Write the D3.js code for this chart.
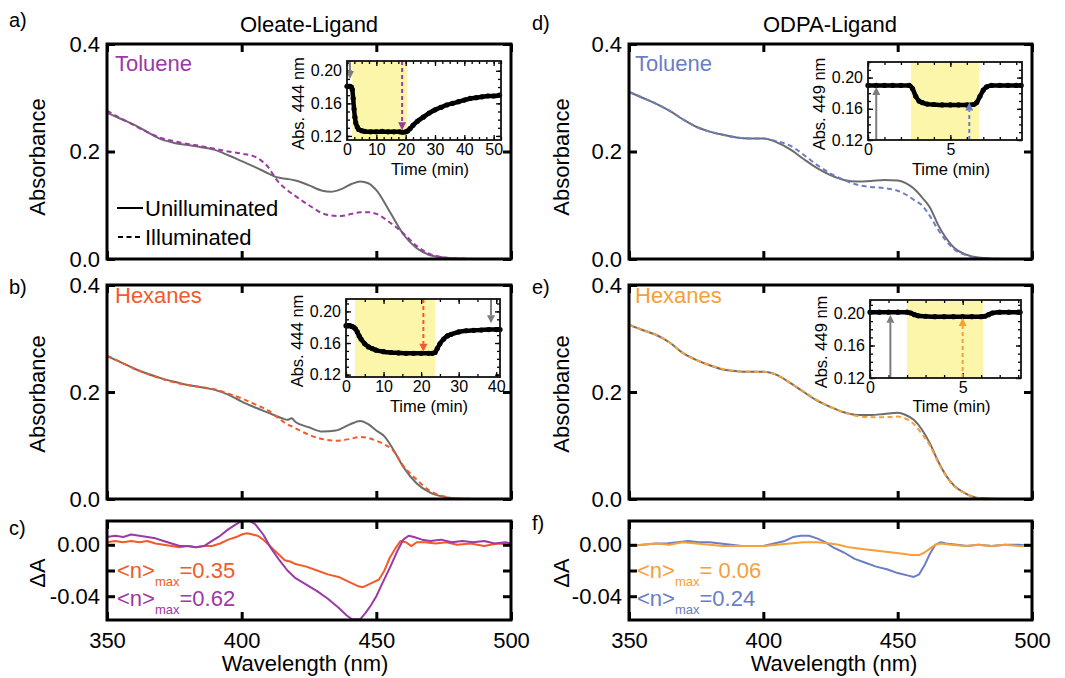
<!DOCTYPE html>
<html>
<head>
<meta charset="utf-8">
<script src="https://cdn.jsdelivr.net/npm/d3@7"></script>
<style>
  body { margin: 0; background: #fff; }
  svg { display: block; }
</style>
</head>
<body>
<svg id="fig" width="1065" height="678"></svg>
<script>
// ---------- Steady-state spectra (wavelength in nm, absorbance) ----------
const wlOleTol = [350,355,360,365,370,375,380,385,390,395,400,405,410,413,417,420,425,430,433,437,441,444,447,450,455,460,465,470,475,480,490,500];
const absOleTolDark  = [.272,.261,.250,.236,.223,.216,.212,.208,.203,.193,.182,.171,.159,.152,.149,.146,.137,.127,.125,.130,.140,.144,.141,.128,.088,.046,.020,.007,.003,.001,.000,.000];
const absOleTolLight = [.276,.262,.249,.236,.225,.219,.214,.210,.205,.200,.196,.190,.170,.147,.128,.117,.100,.085,.081,.080,.084,.087,.087,.084,.068,.048,.024,.009,.003,.001,.000,.000];

const wlOleHex = [350,355,360,365,370,375,380,385,390,395,400,405,410,415,417,418.5,420,425,430,435,440,444,447,450,453,456,460,465,470,475,480,490,500];
const absOleHexDark  = [.267,.256,.244,.234,.226,.219,.213,.209,.204,.195,.182,.171,.161,.151,.148,.151,.144,.134,.126,.128,.139,.146,.140,.128,.117,.095,.060,.029,.012,.004,.001,.000,.000];
const absOleHexLight = [.268,.256,.244,.234,.225,.218,.213,.209,.205,.197,.188,.177,.165,.146,.139,.136,.132,.120,.112,.109,.112,.116,.114,.109,.102,.092,.062,.036,.015,.005,.001,.000,.000];

const wlOdpa = [350,355,360,365,370,375,380,385,390,395,400,405,410,415,420,425,430,435,440,445,450,453,456,459,462,465,468,471,475,480,490,500];
const absOdpaTolDark  = [.311,.300,.289,.276,.260,.246,.237,.231,.226,.224,.224,.217,.204,.186,.169,.156,.147,.144,.145,.147,.146,.141,.131,.115,.096,.064,.039,.021,.009,.003,.000,.000];
const absOdpaTolLight = [.311,.300,.289,.276,.260,.246,.237,.231,.226,.224,.224,.219,.211,.194,.175,.159,.147,.138,.134,.132,.127,.120,.110,.100,.080,.055,.034,.018,.008,.002,.000,.000];
const absOdpaHexDark  = [.326,.316,.307,.293,.273,.260,.250,.242,.239,.238,.238,.232,.217,.200,.184,.172,.162,.157,.157,.159,.161,.157,.148,.130,.104,.071,.044,.025,.011,.002,.000,.000];
const absOdpaHexLight = [.326,.316,.307,.293,.273,.260,.250,.243,.239,.238,.238,.232,.217,.201,.185,.172,.162,.155,.153,.153,.154,.150,.140,.122,.100,.069,.043,.024,.011,.002,.000,.000];

// ---------- Difference spectra (illuminated - unilluminated) ----------
const wlDiffOleTol = [350,353,356,359,362,365,368,371,374,377,380,383,386,389,392,395,398,400,403,405,408,411,414,417,420,424,428,432,436,439,441,444,446,448,450,452,455,458,460,462,464,467,470,474,478,482,486,490,494,498,500];
const dAOleTol = [.006,.007,.006,.008,.007,.006,.005,.003,.001,-.001,-.001,-.002,-.001,.003,.007,.012,.016,.0185,.0185,.016,.008,-.003,-.012,-.020,-.026,-.031,-.036,-.042,-.049,-.055,-.058,-.058,-.053,-.047,-.040,-.031,-.018,-.004,.004,.007,.006,.004,.003,.004,.002,.003,.002,.003,.001,.002,.001];

const wlDiffOleHex = [350,353,356,359,362,365,368,371,374,377,380,383,386,389,392,395,398,400,402,404,406,408,410,412,414,416,418,420,424,428,432,436,440,443,445,447,449,451,453,455,457,459,461,463,465,468,472,476,480,485,490,495,500];
const dAOleHex = [.002,.003,.002,.003,.002,.003,.001,.000,-.001,-.002,-.001,-.002,-.001,-.001,.001,.004,.006,.008,.009,.008,.007,.004,.000,-.004,-.008,-.012,-.013,-.015,-.017,-.020,-.023,-.025,-.029,-.032,-.033,-.031,-.029,-.027,-.020,-.010,-.003,.003,.002,-.001,.002,.002,.001,.002,.000,.001,-.001,.001,.000];

const wlDiffOdpaTol = [350,355,360,364,368,372,376,380,384,388,392,396,400,404,408,411,414,417,420,423,426,430,434,438,442,446,450,454,456,458,460,462,464,466,468,472,476,480,485,490,495,500];
const dAOdpaTol = [-.001,.000,.001,.001,.002,.003,.002,.002,.001,.000,-.001,-.001,-.001,.001,.003,.006,.007,.007,.005,.002,-.002,-.006,-.011,-.014,-.017,-.019,-.022,-.024,-.025,-.023,-.016,-.007,.000,.002,.001,.000,-.001,.000,-.001,.000,.000,-.001];

const wlDiffOdpaHex = [350,355,360,365,370,375,380,385,390,395,400,405,410,415,420,425,428,432,436,440,444,448,452,455,458,460,462,464,466,470,475,480,485,490,495,500];
const dAOdpaHex = [-.001,.000,.001,.000,.002,.001,.000,-.001,-.001,-.001,-.001,.000,.001,.002,.002,.001,.000,-.002,-.003,-.004,-.005,-.006,-.007,-.008,-.008,-.006,-.003,.000,.001,.000,-.001,.000,-.001,.000,-.001,-.001];

// ---------- Kinetics (time in min, absorbance at the exciton peak) ----------
const tOleTol = [0,0.5,1,1.5,1.8,2.1,2.4,2.7,3,3.5,4,5,6,8,10,12,14,16,18,19,20,20.6,21.5,22.5,24,26,28,30,32,34,36,38,40,42,44,46,48,50,52];
const kinOleTol = [.181,.181,.181,.180,.177,.166,.153,.143,.136,.131,.128,.1265,.1255,.125,.125,.1255,.125,.125,.125,.1245,.125,.126,.129,.133,.138,.143,.148,.152,.155,.158,.160,.162,.164,.166,.167,.168,.169,.169,.170];
const tOleHex = [0,0.5,1,1.5,2,2.5,3,3.5,4,5,6,7,8,10,12,14,16,18,20,22,23,23.7,24.3,25,26,27,28,30,32,34,36,38,40,41];
const kinOleHex = [.182,.182,.182,.181,.180,.178,.174,.169,.165,.159,.155,.153,.151,.149,.148,.1475,.147,.147,.147,.147,.147,.148,.153,.159,.165,.169,.171,.174,.1755,.176,.1765,.177,.177,.177];
const tOdpaTol = [0,0.5,1,1.5,2,2.5,2.7,2.9,3.1,3.3,3.6,4,4.5,5,5.5,6,6.4,6.6,6.8,7.0,7.2,7.5,8,8.5,9,9.3];
const kinOdpaTol = [.190,.190,.190,.190,.190,.190,.186,.176,.170,.168,.166,.1655,.165,.165,.165,.165,.1655,.168,.176,.184,.188,.190,.190,.190,.190,.190];
const tOdpaHex = [0,0.5,1,1.5,2,2.2,2.4,2.6,3,3.5,4,4.5,5,5.5,6,6.2,6.4,6.6,7,7.5,8,8.1];
const kinOdpaHex = [.201,.201,.201,.201,.201,.200,.198,.1965,.196,.1955,.1955,.1955,.1955,.1955,.1955,.196,.198,.200,.201,.201,.201,.201];

// Illumination windows [start, end] in min
const lightOleTol = [1.8, 20.6];
const lightOleHex = [2.4, 23.7];
const lightOdpaTol = [2.6, 6.75];
const lightOdpaHex = [2.0, 6.1];

// Arrows marking the sampled spectra: [time, arrow tip absorbance]
const arrowsOleTol = [[1.0, .190], [18.8, .127]];
const arrowsOleHex = [[38.6, .185], [20.6, .149]];
const arrowsOdpaTol = [[0.5, .188], [6.15, .168]];
const arrowsOdpaHex = [[1.1, .198], [5.0, .194]];

// ---------- Tick values and labels ----------
const wlTicks = [350, 400, 450, 500];
const wlTickLabels = ["350", "400", "450", "500"];
const absTicks = [0, 0.2, 0.4];
const absTickLabels = ["0.0", "0.2", "0.4"];
const dATicks = [0, -0.02, -0.04];
const dATickLabels = ["0.00", "", "-0.04"];
const kinAbsTicks = [0.12, 0.16, 0.20];
const kinAbsTickLabels = ["0.12", "0.16", "0.20"];
const timeTicksOleTol = [0, 10, 20, 30, 40, 50];
const timeTicksOleHex = [0, 10, 20, 30, 40];
const timeTicksOdpa = [0, 5];

// ---------- Drawing ----------
const FONT = "'Liberation Sans', Arial, Helvetica, sans-serif";
const C = {
  gray: "#6c6c6c", purple: "#9b39a5", red: "#f15a2b",
  blue: "#6b7dc5", orange: "#f5a03a", yellow: "#fbf6aa", arrow: "#7d7d7d"
};
const svg = d3.select("#fig").attr("font-family", FONT);
const defs = svg.append("defs");

const LEFT = [107, 511], RIGHT = [629, 1032];
const ROW1 = [44, 259], ROW2 = [285, 499], ROW3 = [521, 620];

function styleAxis(sel, size) {
  sel.attr("font-family", FONT).attr("font-size", size);
  sel.select(".domain").remove();
  sel.selectAll(".tick text").attr("fill", "#000");
  sel.selectAll(".tick line").attr("stroke", "#000");
}

function drawPanel(o) {
  const x = d3.scaleLinear().domain([350, 500]).range(o.xr);
  const y = d3.scaleLinear().domain(o.yDomain).range([o.yr[1], o.yr[0]]);
  const g = svg.append("g");
  const cid = "clip-" + o.id;
  defs.append("clipPath").attr("id", cid).append("rect")
    .attr("x", o.xr[0]).attr("y", o.yr[0])
    .attr("width", o.xr[1] - o.xr[0]).attr("height", o.yr[1] - o.yr[0]);
  const plot = g.append("g").attr("clip-path", `url(#${cid})`);
  o.series.forEach(s => {
    plot.append("path")
      .datum(d3.zip(s.wl, s.val))
      .attr("fill", "none")
      .attr("stroke", s.color)
      .attr("stroke-width", s.width || 2)
      .attr("stroke-dasharray", s.dash || null)
      .attr("stroke-linejoin", "round")
      .attr("d", d3.line().x(d => x(d[0])).y(d => y(d[1])).curve(s.curve || d3.curveMonotoneX));
  });

  const TK = 8;
  const fmtY = d => o.yLabels[o.yTicks.indexOf(d)];
  g.append("g").attr("transform", `translate(${o.xr[0]},0)`)
    .call(d3.axisLeft(y).tickValues(o.yTicks).tickFormat(fmtY).tickSize(-TK).tickPadding(7))
    .call(s => styleAxis(s, 22))
    .call(s => s.selectAll(".tick line").attr("stroke-width", 3));
  g.append("g").attr("transform", `translate(${o.xr[1]},0)`)
    .call(d3.axisRight(y).tickValues(o.yTicks).tickFormat("").tickSize(-TK))
    .call(s => styleAxis(s, 22))
    .call(s => s.selectAll(".tick line").attr("stroke-width", 3));
  g.append("g").attr("transform", `translate(0,${o.yr[0]})`)
    .call(d3.axisTop(x).tickValues(wlTicks).tickFormat("").tickSize(-TK))
    .call(s => styleAxis(s, 22))
    .call(s => s.selectAll(".tick line").attr("stroke-width", 3));
  g.append("g").attr("transform", `translate(0,${o.yr[1]})`)
    .call(d3.axisBottom(x).tickValues(wlTicks)
      .tickFormat(o.xLabels ? (d => wlTickLabels[wlTicks.indexOf(d)]) : "")
      .tickSize(-TK).tickPadding(12))
    .call(s => styleAxis(s, 22))
    .call(s => s.selectAll(".tick line").attr("stroke-width", 3));

  g.append("rect")
    .attr("x", o.xr[0]).attr("y", o.yr[0])
    .attr("width", o.xr[1] - o.xr[0]).attr("height", o.yr[1] - o.yr[0])
    .attr("fill", "none").attr("stroke", "#000").attr("stroke-width", 3);
  return { x, y, g };
}

function drawInset(o) {
  const x = d3.scaleLinear().domain(o.xDomain).range(o.xr);
  const y = d3.scaleLinear().domain(o.yDomain).range([o.yr[1], o.yr[0]]);
  const g = svg.append("g");
  const w = o.xr[1] - o.xr[0], h = o.yr[1] - o.yr[0];
  g.append("rect").attr("x", o.xr[0]).attr("y", o.yr[0]).attr("width", w).attr("height", h).attr("fill", "#fff");
  g.append("rect")
    .attr("x", x(o.light[0])).attr("y", o.yr[0])
    .attr("width", x(o.light[1]) - x(o.light[0])).attr("height", h)
    .attr("fill", C.yellow);

  // minor + major ticks on all four sides
  const minorX = d3.range(o.xDomain[0], o.xDomain[1] + 1e-9, o.xMinor);
  const minorY = d3.range(0.12, o.yDomain[1] + 1e-9, 0.01);
  const tickAxis = (axisFn, scale, vals, size, tr, fmt, pad) => {
    g.append("g").attr("transform", tr)
      .call(axisFn(scale).tickValues(vals).tickFormat(fmt || "").tickSize(-size).tickPadding(pad || 3))
      .call(s => styleAxis(s, 16))
      .call(s => s.selectAll(".tick line").attr("stroke-width", 1.3));
  };
  tickAxis(d3.axisLeft, y, minorY, 3, `translate(${o.xr[0]},0)`);
  tickAxis(d3.axisRight, y, minorY, 3, `translate(${o.xr[1]},0)`);
  tickAxis(d3.axisTop, x, minorX, 3, `translate(0,${o.yr[0]})`);
  tickAxis(d3.axisBottom, x, minorX, 3, `translate(0,${o.yr[1]})`);
  tickAxis(d3.axisLeft, y, kinAbsTicks, 5, `translate(${o.xr[0]},0)`,
    d => kinAbsTickLabels[kinAbsTicks.indexOf(d)], 5);
  tickAxis(d3.axisRight, y, kinAbsTicks, 5, `translate(${o.xr[1]},0)`);
  tickAxis(d3.axisTop, x, o.xTicks, 5, `translate(0,${o.yr[0]})`);
  tickAxis(d3.axisBottom, x, o.xTicks, 5, `translate(0,${o.yr[1]})`, d => String(d), 4);

  // kinetic trace
  const pts = d3.zip(o.t, o.a);
  g.append("path").datum(pts)
    .attr("fill", "none").attr("stroke", "#000").attr("stroke-width", 4.5)
    .attr("stroke-linejoin", "round")
    .attr("d", d3.line().x(d => x(d[0])).y(d => y(d[1])).curve(d3.curveMonotoneX));
  g.selectAll("circle.pt").data(pts).join("circle")
    .attr("cx", d => x(d[0])).attr("cy", d => y(d[1])).attr("r", 2.6).attr("fill", "#000");

  // arrows: first is the unilluminated sample (solid gray), second the illuminated one (dashed colour)
  o.arrows.forEach((a, i) => {
    const color = i === 0 ? C.arrow : o.color;
    const fromTop = o.arrowFromTop[i];
    const xa = x(a[0]);
    const y0 = fromTop ? o.yr[0] : o.yr[1];
    const tip = y(a[1]);
    const dir = tip > y0 ? 1 : -1;
    const headLen = 8, headW = 4;
    g.append("line")
      .attr("x1", xa).attr("x2", xa).attr("y1", y0).attr("y2", tip - dir * headLen)
      .attr("stroke", color).attr("stroke-width", 2)
      .attr("stroke-dasharray", i === 0 ? null : "4,3");
    g.append("path")
      .attr("d", `M${xa},${tip} L${xa - headW},${tip - dir * headLen} L${xa + headW},${tip - dir * headLen} Z`)
      .attr("fill", color);
  });

  g.append("rect").attr("x", o.xr[0]).attr("y", o.yr[0]).attr("width", w).attr("height", h)
    .attr("fill", "none").attr("stroke", "#111").attr("stroke-width", 1.8);

  g.append("text")
    .attr("transform", `translate(${o.xr[0] - 49},${(o.yr[0] + o.yr[1]) / 2 + 3}) rotate(-90)`)
    .attr("text-anchor", "middle").attr("dy", "0.35em")
    .attr("font-size", 16.5).text(o.ylabel);
  g.append("text")
    .attr("x", (o.xr[0] + o.xr[1]) / 2 + 6).attr("y", o.yr[1] + o.timeDy)
    .attr("text-anchor", "middle").attr("font-size", 16.5).text("Time (min)");
}

// Main spectral panels
const spectraCommon = { yDomain: [0, 0.4], yTicks: absTicks, yLabels: absTickLabels };
const diffCommon = { yDomain: [-0.0585, 0.0185], yTicks: dATicks, yLabels: dATickLabels, xLabels: true };

drawPanel(Object.assign({ id: "a", xr: LEFT, yr: ROW1, series: [
  { wl: wlOleTol, val: absOleTolDark, color: C.gray },
  { wl: wlOleTol, val: absOleTolLight, color: C.purple, dash: "5,3.5" }
]}, spectraCommon));
drawPanel(Object.assign({ id: "b", xr: LEFT, yr: ROW2, series: [
  { wl: wlOleHex, val: absOleHexDark, color: C.gray },
  { wl: wlOleHex, val: absOleHexLight, color: C.red, dash: "5,3.5" }
]}, spectraCommon));
drawPanel(Object.assign({ id: "c", xr: LEFT, yr: ROW3, series: [
  { wl: wlDiffOleHex, val: dAOleHex, color: C.red, curve: d3.curveLinear },
  { wl: wlDiffOleTol, val: dAOleTol, color: C.purple, curve: d3.curveLinear }
]}, diffCommon));
drawPanel(Object.assign({ id: "d", xr: RIGHT, yr: ROW1, series: [
  { wl: wlOdpa, val: absOdpaTolDark, color: C.gray },
  { wl: wlOdpa, val: absOdpaTolLight, color: C.blue, dash: "5,3.5" }
]}, spectraCommon));
drawPanel(Object.assign({ id: "e", xr: RIGHT, yr: ROW2, series: [
  { wl: wlOdpa, val: absOdpaHexDark, color: C.gray },
  { wl: wlOdpa, val: absOdpaHexLight, color: C.orange, dash: "5,3.5" }
]}, spectraCommon));
drawPanel(Object.assign({ id: "f", xr: RIGHT, yr: ROW3, series: [
  { wl: wlDiffOdpaTol, val: dAOdpaTol, color: C.blue, curve: d3.curveLinear },
  { wl: wlDiffOdpaHex, val: dAOdpaHex, color: C.orange, curve: d3.curveLinear }
]}, diffCommon));

// Kinetic insets
drawInset({ xr: [347, 501], yr: [61, 140], xDomain: [0, 52.5], yDomain: [0.115, 0.212],
  xTicks: timeTicksOleTol, xMinor: 2.5, t: tOleTol, a: kinOleTol, light: lightOleTol,
  arrows: arrowsOleTol, arrowFromTop: [true, true], color: C.purple,
  ylabel: "Abs. 444 nm", timeDy: 35 });
drawInset({ xr: [346, 500], yr: [299, 377], xDomain: [0, 41], yDomain: [0.117, 0.2157],
  xTicks: timeTicksOleHex, xMinor: 5, t: tOleHex, a: kinOleHex, light: lightOleHex,
  arrows: arrowsOleHex, arrowFromTop: [true, true], color: C.red,
  ylabel: "Abs. 444 nm", timeDy: 35 });
drawInset({ xr: [868, 1022], yr: [62, 140], xDomain: [0, 9.35], yDomain: [0.12, 0.22],
  xTicks: timeTicksOdpa, xMinor: 1, t: tOdpaTol, a: kinOdpaTol, light: lightOdpaTol,
  arrows: arrowsOdpaTol, arrowFromTop: [false, false], color: C.blue,
  ylabel: "Abs. 449 nm", timeDy: 35 });
drawInset({ xr: [870, 1021], yr: [300, 378], xDomain: [0, 8.15], yDomain: [0.12, 0.216],
  xTicks: timeTicksOdpa, xMinor: 1, t: tOdpaHex, a: kinOdpaHex, light: lightOdpaHex,
  arrows: arrowsOdpaHex, arrowFromTop: [false, false], color: C.orange,
  ylabel: "Abs. 449 nm", timeDy: 34 });

// ---------- Text ----------
const txt = (x, y, s, opts = {}) => svg.append("text")
  .attr("x", x).attr("y", y)
  .attr("font-size", opts.size || 22)
  .attr("fill", opts.color || "#000")
  .attr("text-anchor", opts.anchor || "start")
  .text(s);

txt(309, 32, "Oleate-Ligand", { anchor: "middle" });
txt(830, 32, "ODPA-Ligand", { anchor: "middle" });

txt(9, 27, "a)", { size: 20 });
txt(9, 294, "b)", { size: 20 });
txt(9, 535, "c)", { size: 20 });
txt(532, 30, "d)", { size: 20 });
txt(532, 294, "e)", { size: 20 });
txt(532, 530, "f)", { size: 20 });

txt(115, 71, "Toluene", { color: C.purple });
txt(115, 303, "Hexanes", { color: C.red });
txt(635, 71, "Toluene", { color: C.blue });
txt(635, 303, "Hexanes", { color: C.orange });

// Legend in panel a
svg.append("line").attr("x1", 117).attr("x2", 143).attr("y1", 208).attr("y2", 208)
  .attr("stroke", "#000").attr("stroke-width", 2);
txt(145, 216, "Unilluminated");
svg.append("line").attr("x1", 118).attr("x2", 143).attr("y1", 237).attr("y2", 237)
  .attr("stroke", "#000").attr("stroke-width", 2).attr("stroke-dasharray", "5,3.5");
txt(145, 245, "Illuminated");

// Axis titles
const vtxt = (cx, cy, s) => svg.append("text")
  .attr("transform", `translate(${cx},${cy}) rotate(-90)`)
  .attr("text-anchor", "middle").attr("dy", "0.35em")
  .attr("font-size", 22).text(s);
vtxt(37, 157, "Absorbance");
vtxt(37, 394, "Absorbance");
vtxt(37, 573, "ΔA");
vtxt(561, 157, "Absorbance");
vtxt(561, 394, "Absorbance");
vtxt(561, 573, "ΔA");

txt(305, 671, "Wavelength (nm)", { anchor: "middle", size: 22 });
txt(834, 671, "Wavelength (nm)", { anchor: "middle", size: 22 });

// <n>max annotations
function nmax(x, y, value, color) {
  const t = svg.append("text").attr("x", x).attr("y", y).attr("font-size", 22).attr("fill", color);
  t.append("tspan").text("<n>");
  t.append("tspan").attr("font-size", 13).attr("dy", 8).text("max");
  t.append("tspan").attr("dy", -8).text(value);
}
nmax(117, 578, "=0.35", C.red);
nmax(117, 606, "=0.62", C.purple);
nmax(637, 578, "= 0.06", C.orange);
nmax(637, 606, "=0.24", C.blue);
</script>
</body>
</html>
